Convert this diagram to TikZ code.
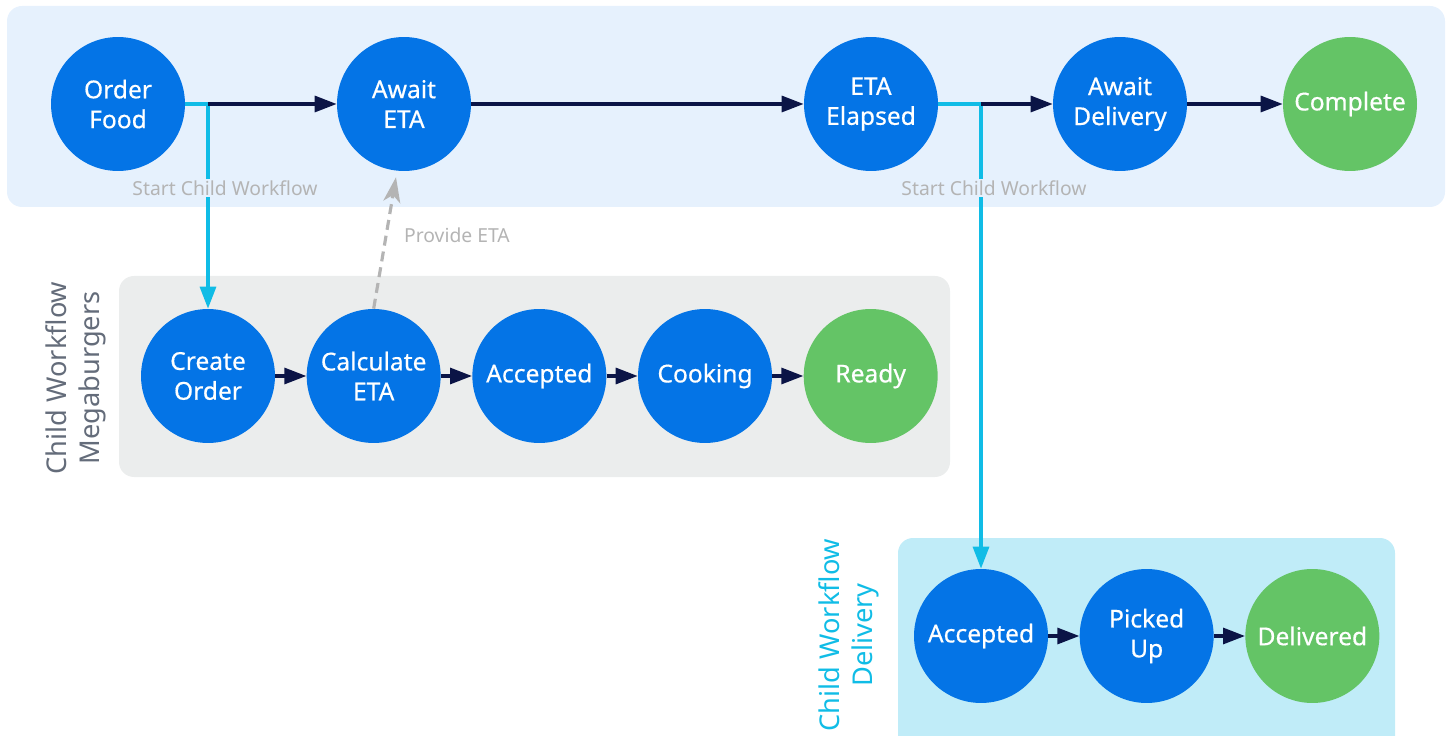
\documentclass[tikz,border=0pt]{standalone}
\usepackage{fontspec}
\setmainfont{Noto Sans}
\newfontfamily\statefont[FakeBold=0.5]{Noto Sans}
\usepackage{xcolor}
\definecolor{paneltop}{HTML}{E6F1FD}
\definecolor{panelgray}{HTML}{EBEDED}
\definecolor{panelcyan}{HTML}{C0ECF8}
\definecolor{stateblue}{HTML}{0474E6}
\definecolor{stategreen}{HTML}{64C466}
\definecolor{flownavy}{HTML}{0B1446}
\definecolor{spawncyan}{HTML}{10BCE6}
\definecolor{hintgray}{HTML}{B4B4B4}
\definecolor{laneslate}{HTML}{646C7A}
\usepackage{tikz}
\usetikzlibrary{arrows.meta,positioning}
\tikzset{
  state/.style = {circle, fill=stateblue, text=white, minimum size=2.68cm,
                  inner sep=0pt, align=center,
                  font=\statefont\fontsize{14}{17}\selectfont},
  final/.style = {state, fill=stategreen},
  flow/.style  = {-{Triangle[length=4.4mm,width=3.2mm]}, line width=1.8pt,
                  draw=flownavy},
  spawn/.style = {-{Triangle[length=4.4mm,width=3.2mm]}, line width=1.8pt,
                  draw=spawncyan},
  hint/.style  = {-{Stealth[length=5mm,width=3.4mm,inset=1.4mm]},
                  line width=1.8pt, draw=hintgray,
                  dash pattern=on 2mm off 1.2mm},
  note/.style  = {text=hintgray, font=\fontsize{11}{13}\selectfont,
                  inner sep=1pt},
  lane/.style  = {rotate=90, align=center,
                  font=\fontsize{15.5}{18.5}\selectfont}
}

\begin{document}
\begin{tikzpicture}[x=0.02cm, y=-0.02cm, node distance=6.2mm]
  \useasboundingbox (0,0) rectangle (1447,736);

  % swimlane panels
  \fill[paneltop,  rounded corners=3mm] (7,6)     rectangle (1445,207);
  \fill[panelgray, rounded corners=3mm] (119,276) rectangle (950,477);
  \fill[panelcyan, rounded corners=3mm] (898,538) rectangle (1395,780);

  % parent workflow
  \node[state] (order)   at (118,104)  {Order\\Food};
  \node[state] (await)   at (404,104)  {Await\\ETA};
  \node[state] (elapsed) at (871,104)  {ETA\\Elapsed};
  \node[state] (waitdel) at (1120,104) {Await\\Delivery};
  \node[final] (done)    at (1350,104) {Complete};

  % restaurant child workflow
  \node[state] (create)              at (208,376) {Create\\Order};
  \node[state, right=of create] (calc)   {Calculate\\ETA};
  \node[state, right=of calc]   (accept) {Accepted};
  \node[state, right=of accept] (cook)   {Cooking};
  \node[final, right=of cook]   (ready)  {Ready};

  % courier child workflow
  \node[state] (pickacc)              at (981,636) {Accepted};
  \node[state, right=of pickacc] (picked)    {Picked\\Up};
  \node[final, right=of picked]  (delivered) {Delivered};

  \node[lane, text=laneslate] (megaLane) at (76,378)  {Child Workflow\\Megaburgers};
  \node[lane, text=spawncyan] (delLane)  at (849,635) {Child Workflow\\Delivery};

  % forks into the child workflows
  \coordinate (fork1) at (208,104);
  \coordinate (fork2) at (981,104);
  \draw[spawncyan, line width=1.8pt] (order.east) -- (fork1);
  \draw[spawncyan, line width=1.8pt] (elapsed.east) -- (fork2);
  \draw[spawn] (fork1) -- (create.north);
  \draw[spawn] (fork2) -- (pickacc.north);

  \node[note, fill=paneltop] (start1) at (225,188) {Start Child Workflow};
  \node[note, fill=paneltop] (start2) at (994,188) {Start Child Workflow};

  \draw[flow] (fork1)   -- (await);
  \draw[flow] (await)   -- (elapsed);
  \draw[flow] (fork2)   -- (waitdel);
  \draw[flow] (waitdel) -- (done);

  \draw[flow] (create) -- (calc);
  \draw[flow] (calc)   -- (accept);
  \draw[flow] (accept) -- (cook);
  \draw[flow] (cook)   -- (ready);

  \draw[flow] (pickacc) -- (picked);
  \draw[flow] (picked)  -- (delivered);

  % ETA goes back to the parent
  \draw[hint, shorten >=1.2mm] (calc.north) -- ([xshift=-1.4mm]await.south);
  \node[note, anchor=west] (provide) at (402,235) {Provide ETA};
\end{tikzpicture}
\end{document}
